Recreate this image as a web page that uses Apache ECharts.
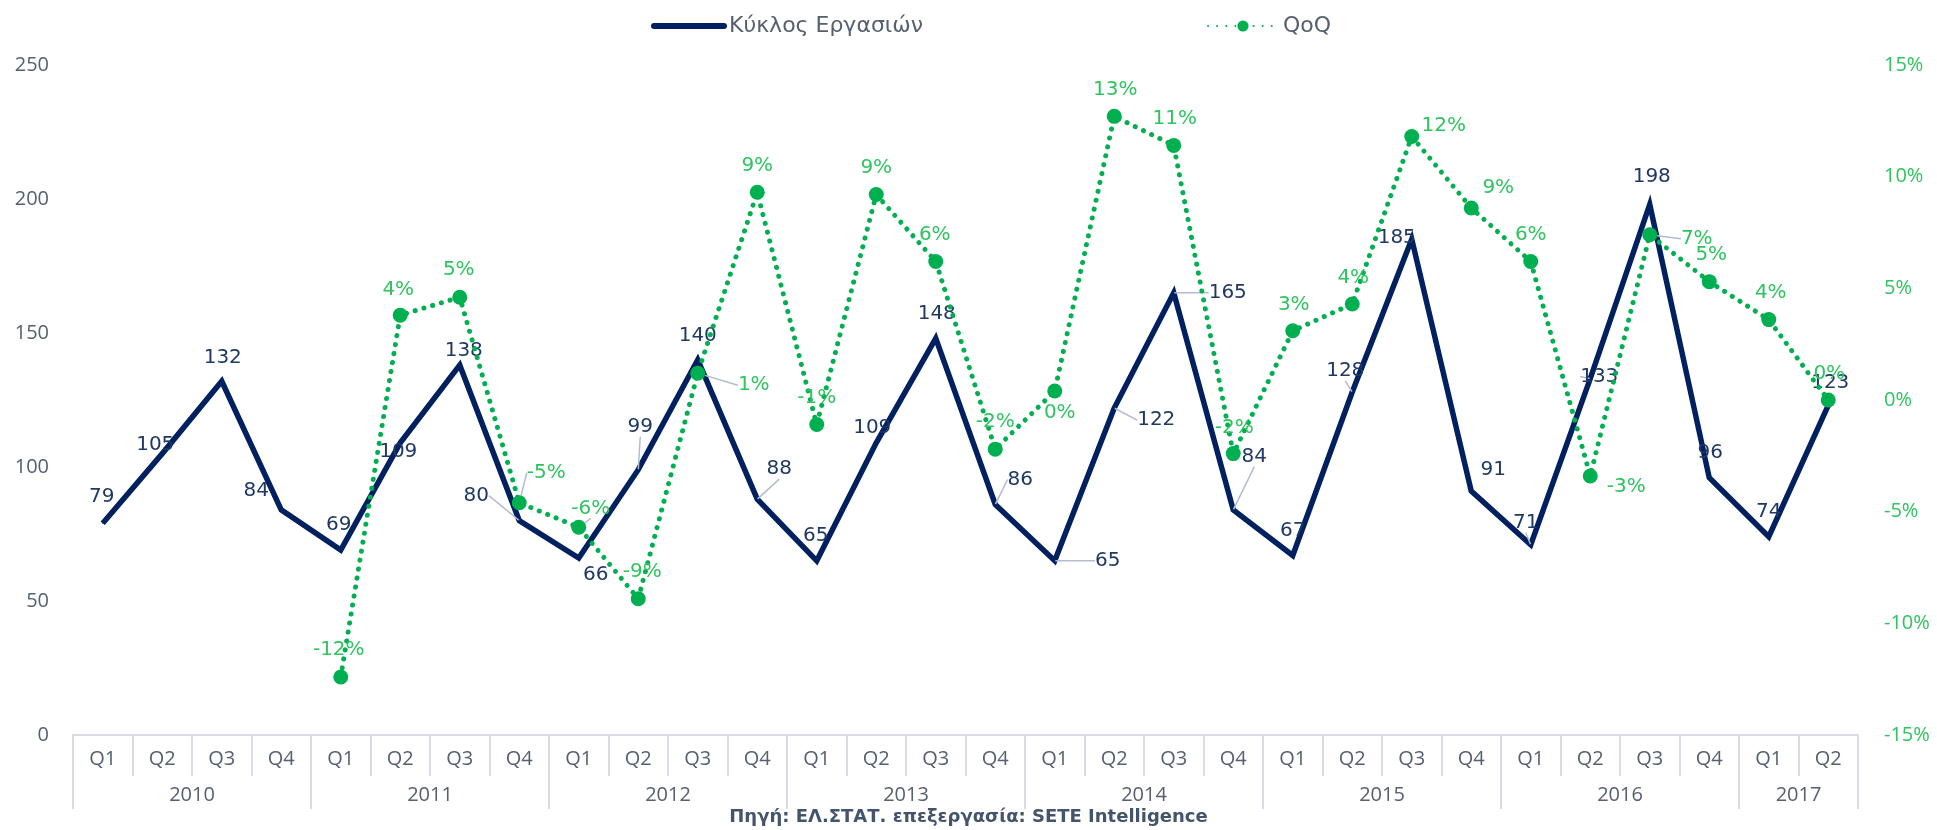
<!DOCTYPE html>
<html>
<head>
<meta charset="utf-8">
<script src="https://cdn.jsdelivr.net/npm/echarts@6/dist/echarts.min.js"></script>
<style>
html,body{margin:0;padding:0;background:#fff;}
#chart{width:1937px;height:830px;}
</style>
</head>
<body>
<div id="chart"></div>
<script>
// ---- data ----
const quarters = ["Q1","Q2","Q3","Q4","Q1","Q2","Q3","Q4","Q1","Q2","Q3","Q4","Q1","Q2","Q3","Q4","Q1","Q2","Q3","Q4","Q1","Q2","Q3","Q4","Q1","Q2","Q3","Q4","Q1","Q2"];
const years = ["2010","2011","2012","2013","2014","2015","2016","2017"];
const yearQuarterCounts = [4,4,4,4,4,4,4,2];
const turnover = [79,105,132,84,69,109,138,80,66,99,140,88,65,109,148,86,65,122,165,84,67,128,185,91,71,133,198,96,74,123];
// QoQ in %, starting 2011 Q1
const qoq = [null,null,null,null,-12.4,3.8,4.6,-4.6,-5.7,-8.9,1.2,9.3,-1.1,9.2,6.2,-2.2,0.4,12.7,11.4,-2.4,3.1,4.3,11.8,8.6,6.2,-3.4,7.4,5.3,3.6,0.0];
const leftTicks = [0,50,100,150,200,250];
const rightTicks = [-15,-10,-5,0,5,10,15];

// ---- label placement (pixel offsets from point; leader flag) ----
const turnoverLabelPos = [
 [-1,-26,0],[-7,-9,0],[1,-23,0],[-25,-19,0],[-2,-25,0],[-2,9,0],[4,-14,0],[-43,-25,1],
 [17,17,0],[2,-43,1],[0,-24,0],[22,-30,1],[-1,-25,0],[-4,-15,0],[1,-25,0],[25,-25,1],
 [53,0,1],[42,12,1],[54,0,1],[21,-53,1],[0,-25,0],[-7,-21,1],[-15,-1,0],[22,-21,0],
 [-5,-22,1],[9,-2,1],[2,-28,0],[1,-25,0],[0,-25,0],[2,-23,0]
];
const qoqLabelPos = [
 null,null,null,null,
 [-2,-27,0],[-2,-25,0],[-1,-27,0],[27,-30,1],[12,-19,1],[4,-27,0],[56,12,1],[0,-27,0],
 [0,-27,0],[0,-27,0],[-1,-27,0],[0,-27,0],[5,22,0],[1,-27,0],[1,-27,0],[1,-26,0],
 [1,-26,0],[1,-26,0],[32,-11,0],[27,-20,0],[0,-27,0],[36,11,0],[47,4,1],[2,-27,0],
 [2,-27,0],[1,-26,0]
];

// year axis built on quarter boundaries (31 boundary points)
const yearAxisData = [];
const yearTickIdx = new Set([0]);
const yearLabelIdx = new Set();
{
  let b = 0;
  for (let i = 0; i <= quarters.length; i++) yearAxisData.push("");
  years.forEach((y, k) => {
    const n = yearQuarterCounts[k];
    const centerTimes2 = 2*b + n;
    if (centerTimes2 % 2 === 0) { yearAxisData[centerTimes2/2] = y; yearLabelIdx.add(centerTimes2/2); }
    b += n;
    yearTickIdx.add(b);
  });
}

const NAVY = "#002060";
const GREEN = "#00B050";
const AXISTXT = "#56606f";
const GRIDC = "#d9dde3";

const chart = echarts.init(document.getElementById('chart'));

const turnoverData = turnover.map((v, i) => ({
  value: v,
  labelLine: { show: !!turnoverLabelPos[i][2] }
}));
const qoqData = qoq.map((v, i) => (v === null ? null : {
  value: v,
  labelLine: { show: !!qoqLabelPos[i][2] }
}));

chart.setOption({
  animation: false,
  backgroundColor: "#fff",
  legend: {
    top: 10,
    left: 646,
    itemGap: 284,
    itemWidth: 70,
    itemHeight: 14,
    textStyle: { fontFamily: "DejaVu Sans", fontSize: 22, color: AXISTXT },
    data: [
      { name: "Κύκλος Εργασιών", itemStyle: { opacity: 0 }, lineStyle: { width: 6, cap: "round" } },
      { name: "QoQ" }
    ]
  },
  grid: { left: 73, right: 79, top: 65, bottom: 95 },
  xAxis: [
    {
      type: "category",
      data: quarters,
      boundaryGap: true,
      axisLine: { onZero: false, lineStyle: { color: GRIDC, width: 2 } },
      axisTick: { show: true, length: 41, interval: 0, lineStyle: { color: GRIDC, width: 2 } },
      axisLabel: { interval: 0, margin: 14, fontFamily: "Open Sans", fontSize: 20, color: AXISTXT },
      splitLine: { show: false }
    },
    {
      type: "category",
      data: yearAxisData,
      boundaryGap: false,
      position: "bottom",
      axisLine: { show: false, onZero: false },
      axisTick: { show: true, length: 74, interval: (idx) => yearTickIdx.has(idx), lineStyle: { color: GRIDC, width: 2 } },
      axisLabel: { interval: (idx) => yearLabelIdx.has(idx), margin: 50, fontFamily: "Open Sans", fontSize: 20, color: AXISTXT },
      splitLine: { show: false }
    }
  ],
  yAxis: [
    {
      type: "value",
      min: 0, max: 250, interval: 50,
      axisLine: { show: false }, axisTick: { show: false },
      splitLine: { show: false },
      axisLabel: { margin: 24, fontFamily: "Open Sans", fontSize: 20, color: AXISTXT }
    },
    {
      type: "value",
      min: -15, max: 15, interval: 5,
      axisLine: { show: false }, axisTick: { show: false },
      splitLine: { show: false },
      axisLabel: { margin: 26, align: "left", fontFamily: "Open Sans", fontSize: 20, color: "#2ec45f", formatter: (v) => v + "%" }
    }
  ],
  series: [
    {
      name: "Κύκλος Εργασιών",
      type: "line",
      xAxisIndex: 0, yAxisIndex: 0,
      data: turnoverData,
      symbol: "circle",
      symbolSize: 1,
      showAllSymbol: true,
      lineStyle: { color: NAVY, width: 5.5, join: "miter" },
      itemStyle: { color: NAVY },
      z: 3,
      label: {
        show: true, position: "inside",
        fontFamily: "DejaVu Sans", fontSize: 20, color: "#1f3864"
      },
      labelLine: { lineStyle: { color: "#b4bccb", width: 1.5 } },
      labelLayout: (p) => { const o = turnoverLabelPos[p.dataIndex]; return { dx: o[0], dy: o[1] }; }
    },
    {
      name: "QoQ",
      type: "line",
      xAxisIndex: 0, yAxisIndex: 1,
      data: qoqData,
      symbol: "circle",
      symbolSize: 15,
      showAllSymbol: true,
      connectNulls: false,
      lineStyle: { color: GREEN, width: 5, type: [0.1, 9], cap: "round" },
      itemStyle: { color: GREEN },
      z: 4,
      label: {
        show: true, position: "inside",
        fontFamily: "DejaVu Sans", fontSize: 20, color: "#2ec45f",
        formatter: (p) => Math.round(p.value) + "%"
      },
      labelLine: { lineStyle: { color: "#b4bccb", width: 1.5 } },
      labelLayout: (p) => { const o = qoqLabelPos[p.dataIndex]; return o ? { dx: o[0], dy: o[1] } : {}; }
    }
  ],
  graphic: [
    {
      type: "text",
      left: "center",
      top: 808,
      style: {
        text: "Πηγή: ΕΛ.ΣΤΑΤ. επεξεργασία: SETE Intelligence",
        font: "bold 18px 'DejaVu Sans'",
        fill: "#44546a"
      }
    }
  ]
});
</script>
</body>
</html>
